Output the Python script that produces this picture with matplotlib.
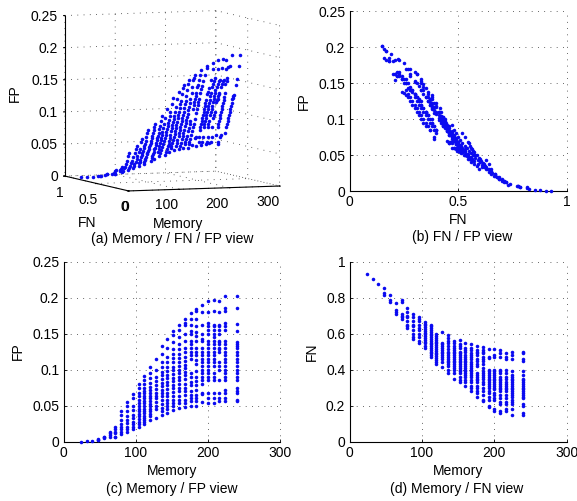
import matplotlib
matplotlib.use('Agg')
import matplotlib.pyplot as plt
from mpl_toolkits.mplot3d import Axes3D, proj3d

plt.rcParams['font.family'] = ['Liberation Sans', 'DejaVu Sans']
plt.rcParams['font.size'] = 10

memory_values = [24, 32, 40, 48, 56, 64, 72, 80, 88, 96, 104, 112, 120, 128, 136, 144,
                 152, 160, 168, 176, 184, 192, 200, 208, 216, 224, 240]

fn_columns = [
    [.93], [.905], [.875],
    [.855, .825, .815],
    [.815, .785, .775],
    [.77, .73, .72, .71],
    [.785, .775, .71, .70, .69, .68],
    [.74, .72, .70, .69, .67, .65, .64, .63],
    [.71, .69, .67, .65, .64, .62, .60, .58, .57],
    [.69, .68, .67, .65, .63, .62, .60, .58, .56, .55],
    [.665, .655, .645, .635, .625, .615, .605, .595, .585, .575, .565, .555, .545, .53, .52],
    [.65, .64, .63, .62, .61, .60, .59, .58, .57, .56, .55, .54, .53, .52, .51, .50, .49, .48, .47],
    [.595, .585, .575, .565, .555, .545, .535, .525, .515, .505, .495, .485, .475, .465, .455, .445, .43],
    [.61, .55, .54, .53, .52, .51, .50, .49, .48, .47, .46, .44, .415],
    [.59, .575, .56, .545, .53, .515, .50, .49, .48, .47, .46, .45, .44, .43, .42, .40, .38],
    [.56, .545, .53, .52, .51, .50, .49, .48, .47, .46, .45, .44, .43, .42, .41, .40, .38, .35],
    [.565, .54, .53, .52, .50, .49, .48, .47, .46, .45, .44, .43, .42, .41, .40, .39, .38, .36, .34, .33],
    [.55, .52, .51, .50, .48, .47, .46, .45, .44, .43, .42, .41, .40, .39, .38, .37, .36, .34, .33, .31],
    [.54, .52, .51, .49, .48, .47, .46, .44, .43, .42, .41, .40, .39, .38, .37, .36, .34, .33, .31, .30, .28],
    [.53, .51, .50, .49, .48, .46, .45, .43, .42, .38, .37, .36, .35, .34, .33, .31, .30, .28, .27, .25],
    [.525, .51, .50, .49, .47, .46, .45, .43, .41, .39, .38, .37, .36, .35, .33, .32, .30, .28, .26, .23, .225],
    [.515, .47, .465, .40, .39, .38, .37, .36, .35, .34, .33, .32, .31, .30, .28, .27, .25, .23, .20, .19],
    [.515, .48, .47, .40, .39, .38, .37, .36, .35, .34, .33, .32, .31, .30, .29, .27, .26, .24, .23, .18, .17],
    [.51, .49, .47, .40, .39, .38, .36, .35, .34, .33, .32, .31, .30, .29, .28, .26, .24, .22, .21, .17, .16],
    [.495, .47, .46, .40, .38, .36, .35, .33, .32, .31, .30, .29, .28, .26, .24, .22, .21, .18, .17],
    [.50, .48, .46, .39, .37, .36, .35, .34, .33, .32, .31, .30, .29, .28, .27, .26, .25, .23, .22, .21, .18, .15, .145],
    [.50, .49, .46, .45, .39, .37, .35, .34, .33, .32, .31, .30, .29, .28, .27, .26, .25, .24, .21, .20, .16, .15],
]

fp_columns = [
    [.0002], [.0005], [.001],
    [.002, .003, .0035],
    [.005, .006, .007],
    [.007, .009, .012, .014],
    [.006, .007, .012, .014, .017, .02],
    [.010, .013, .017, .02, .024, .03, .037, .043],
    [.014, .017, .021, .026, .03, .036, .043, .05, .055],
    [.018, .02, .024, .028, .033, .037, .044, .05, .06, .066],
    [.021, .025, .028, .031, .035, .039, .042, .046, .05, .054, .058, .063, .068, .075, .08],
    [.024, .027, .03, .033, .036, .04, .043, .046, .05, .053, .056, .06, .063, .067, .071, .075, .08, .085, .091],
    [.03, .035, .038, .042, .045, .049, .052, .056, .06, .064, .068, .072, .076, .082, .088, .095, .103],
    [.033, .045, .05, .055, .06, .064, .068, .073, .078, .084, .09, .10, .115],
    [.037, .042, .047, .052, .058, .063, .068, .072, .077, .082, .087, .092, .097, .103, .11, .122, .133],
    [.04, .045, .05, .054, .058, .063, .068, .073, .078, .083, .088, .093, .098, .104, .11, .118, .13, .143],
    [.044, .05, .054, .058, .064, .069, .074, .079, .084, .089, .094, .099, .104, .11, .116, .122, .128, .138, .148, .153],
    [.047, .054, .058, .063, .07, .075, .08, .085, .09, .095, .10, .105, .11, .116, .122, .128, .135, .145, .155, .162],
    [.048, .054, .058, .065, .07, .075, .08, .087, .092, .097, .102, .107, .112, .118, .124, .13, .14, .15, .162, .165, .17],
    [.05, .056, .06, .065, .07, .078, .083, .09, .095, .115, .12, .125, .13, .135, .14, .15, .153, .162, .17, .178],
    [.05, .056, .06, .065, .072, .078, .084, .09, .098, .108, .114, .12, .125, .13, .14, .146, .152, .16, .17, .182, .184],
    [.055, .066, .068, .08, .085, .09, .095, .10, .105, .11, .115, .12, .125, .13, .14, .143, .15, .162, .18, .19],
    [.053, .06, .068, .085, .09, .095, .10, .105, .11, .115, .12, .125, .13, .135, .14, .15, .155, .16, .165, .18, .195],
    [.054, .06, .068, .085, .09, .095, .105, .11, .115, .12, .125, .13, .135, .14, .145, .15, .155, .16, .162, .182, .197],
    [.056, .06, .068, .085, .10, .105, .11, .125, .128, .13, .135, .138, .14, .15, .155, .16, .162, .18, .195],
    [.057, .06, .067, .072, .085, .09, .095, .10, .105, .11, .115, .12, .125, .13, .135, .14, .155, .16, .165, .182, .185, .202],
    [.056, .058, .067, .07, .075, .085, .09, .095, .10, .105, .11, .115, .12, .125, .13, .133, .136, .138, .154, .163, .185, .202],
]

memory = []
fn = []
fp = []
for m, fn_col, fp_col in zip(memory_values, fn_columns, fp_columns):
    for a, b in zip(fn_col, fp_col):
        memory.append(m)
        fn.append(a)
        fp.append(b)

DOT = '#0a0af0'
GRID = (0, (1, 6.5))
W, H = 577, 501


def px_box(left, top, right, bottom):
    return [left / W, 1 - bottom / H, (right - left) / W, (bottom - top) / H]


def flat_panel(box, x, y, xlabel, ylabel, xlim, ylim, xticks, yticks, yticklabels):
    ax = fig.add_axes(px_box(*box))
    ax.scatter(x, y, s=6.5, color=DOT, linewidths=0, zorder=3, clip_on=False)
    ax.set_xlim(*xlim)
    ax.set_ylim(*ylim)
    ax.set_xticks(xticks)
    ax.set_xticklabels([str(t) for t in xticks])
    ax.set_yticks(yticks)
    ax.set_yticklabels(yticklabels)
    ax.spines['top'].set_visible(False)
    ax.spines['right'].set_visible(False)
    ax.spines['left'].set_linewidth(0.8)
    ax.spines['bottom'].set_linewidth(0.8)
    ax.tick_params(direction='in', length=2, width=0.6, labelsize=10, pad=3)
    ax.grid(True, color='#333333', linewidth=0.6, linestyle=GRID)
    for line in ax.get_xgridlines() + ax.get_ygridlines():
        line.set_clip_on(False)
    ax.set_axisbelow(True)
    ax.set_xlabel(xlabel, fontsize=10, labelpad=3)
    ax.set_ylabel(ylabel, fontsize=10, labelpad=5)
    return ax


def tick_label_3d(ax, text, x, y, z, dx, dy, ha='center'):
    # tick label for the 3d box, placed from the axes projection with a pixel offset
    px, py, _ = proj3d.proj_transform(x, y, z, ax.get_proj())
    ax.annotate(text, xy=(px, py), xycoords='data', xytext=(dx, dy),
                textcoords='offset pixels', ha=ha, va='center',
                fontsize=10, annotation_clip=False)


fig = plt.figure(figsize=(W / 100, H / 100), dpi=100)

fp_ticks = [0, 0.05, 0.1, 0.15, 0.2, 0.25]
fp_labels = ['0', '0.05', '0.1', '0.15', '0.2', '0.25']
mem_ticks = [0, 100, 200, 300]
fn_ticks = [0, 0.5, 1]

# (a) 3d view, orthographic to get the flat matlab look
ax3 = fig.add_axes(px_box(19, -16, 319, 224), projection='3d', proj_type='ortho')
ax3.patch.set_alpha(0)
ax3.view_init(elev=5, azim=-110.5)
ax3.set_box_aspect((162, 183, 162), zoom=1.18)
ax3.scatter(memory, fn, fp, s=6.5, color=DOT, linewidths=0, depthshade=False)
ax3.set_xlim(0, 300, view_margin=0)
ax3.set_ylim(0, 1, view_margin=0)
ax3.set_zlim(0, 0.25, view_margin=0)
ax3.set_xticks(mem_ticks)
ax3.set_yticks(fn_ticks)
ax3.set_zticks(fp_ticks)
ax3.set_xticklabels([])
ax3.set_yticklabels([])
ax3.set_zticklabels([])
for axis in (ax3.xaxis, ax3.yaxis, ax3.zaxis):
    axis.set_pane_color((1, 1, 1, 0))
    axis.pane.set_edgecolor('none')
    axis._axinfo['grid'].update(color='#333333', linewidth=0.6, linestyle=GRID)
    axis._axinfo['tick'].update(inward_factor=0.1, outward_factor=0)
for t in mem_ticks:
    tick_label_3d(ax3, str(t), t, 0, 0, -3 if t == 0 else -12, -16)
tick_label_3d(ax3, '0', 0, 0, 0, -4, -16)
tick_label_3d(ax3, '0.5', 0, 0.5, 0, -9, -16.5)
tick_label_3d(ax3, '1', 0, 1, 0, -5, -17)
for t, label in zip(fp_ticks, fp_labels):
    tick_label_3d(ax3, label, 0, 1, t, -7, -1, ha='right')
fig.text(178 / W, 1 - 224 / H, 'Memory', fontsize=10, ha='center', va='center')
fig.text(87 / W, 1 - 223 / H, 'FN', fontsize=10, ha='center', va='center')
fig.text(15 / W, 1 - 93 / H, 'FP', fontsize=10, ha='center', va='center', rotation=90)

# (b)
flat_panel((349.5, 11, 566.7, 191), fn, fp, 'FN', 'FP', (0, 1), (0, 0.25),
           [0, 0.5, 1], fp_ticks, fp_labels)
# (c)
flat_panel((63.5, 261.5, 280, 441.7), memory, fp, 'Memory', 'FP', (0, 300), (0, 0.25),
           mem_ticks, fp_ticks, fp_labels)
# (d)
flat_panel((349.5, 261.5, 566.7, 441.7), memory, fn, 'Memory', 'FN', (0, 300), (0, 1),
           mem_ticks, [0, 0.2, 0.4, 0.6, 0.8, 1], ['0', '0.2', '0.4', '0.6', '0.8', '1'])

captions = [('(a) Memory / FN / FP view', 172, 239),
            ('(b) FN / FP view', 462, 237),
            ('(c) Memory / FP view', 172, 489),
            ('(d) Memory / FN view', 457, 489)]
for text, x, y in captions:
    fig.text(x / W, 1 - y / H, text, fontsize=10, ha='center', va='center')

fig.savefig('out.png', dpi=100)
